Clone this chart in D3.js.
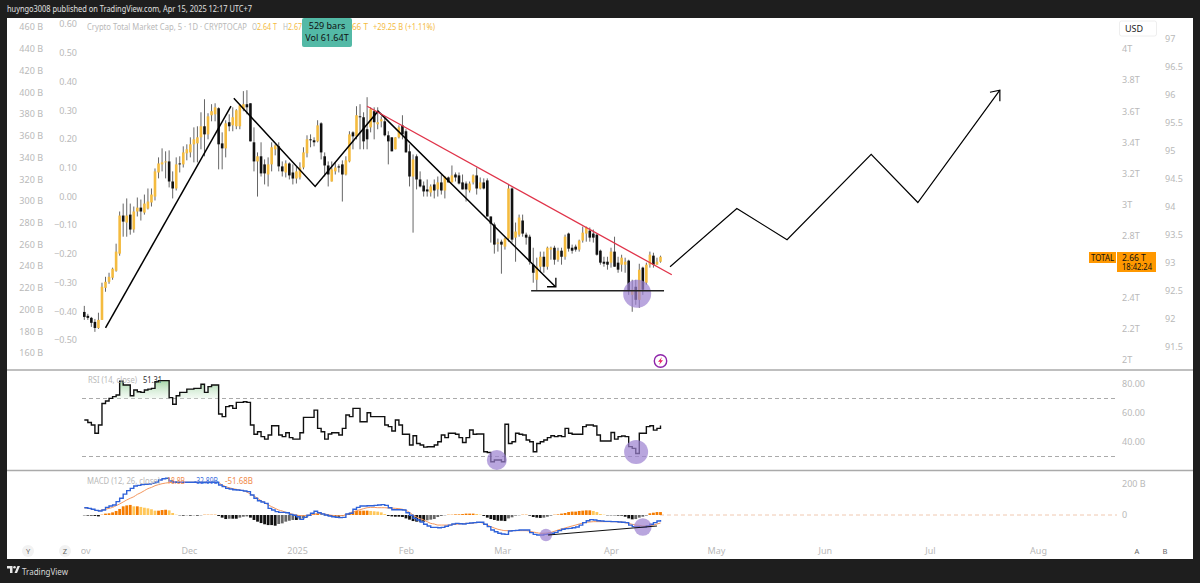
<!DOCTYPE html>
<html><head><meta charset="utf-8">
<style>html,body{margin:0;padding:0;background:#1e1e1e}svg{display:block}text{font-family:"Noto Sans",Roboto,sans-serif}</style>
<script src="https://cdn.jsdelivr.net/npm/d3@7"></script></head><body><div id="c"></div>
<script>
const highs=[2.348,2.297,2.277,2.264,2.304,2.497,2.535,2.561,2.594,2.748,2.955,3.006,3.039,3.006,2.987,3.045,3.032,3.064,3.103,3.103,3.232,3.303,3.361,3.342,3.348,3.213,3.303,3.310,3.374,3.387,3.432,3.496,3.503,3.593,3.677,3.587,3.645,3.651,3.625,3.464,3.542,3.580,3.625,3.613,3.645,3.729,3.735,3.651,3.496,3.335,3.400,3.290,3.303,3.400,3.387,3.400,3.277,3.284,3.271,3.258,3.245,3.271,3.368,3.445,3.451,3.432,3.542,3.529,3.335,3.277,3.277,3.271,3.258,3.284,3.310,3.471,3.471,3.632,3.645,3.593,3.690,3.625,3.625,3.625,3.567,3.567,3.471,3.432,3.432,3.509,3.574,3.484,3.387,3.322,3.322,3.213,3.148,3.161,3.129,3.161,3.180,3.193,3.180,3.180,3.251,3.206,3.206,3.193,3.148,3.148,3.193,3.238,3.174,3.168,3.168,2.923,2.884,2.781,2.774,2.787,3.129,3.110,2.884,2.935,2.935,2.819,2.806,2.722,2.658,2.697,2.697,2.729,2.729,2.735,2.722,2.722,2.806,2.819,2.742,2.742,2.774,2.858,2.858,2.852,2.839,2.813,2.710,2.664,2.664,2.722,2.793,2.664,2.677,2.658,2.645,2.516,2.516,2.619,2.600,2.626,2.697,2.690,2.658,2.671];
const lows=[2.258,2.258,2.213,2.181,2.200,2.258,2.439,2.490,2.516,2.568,2.671,2.793,2.793,2.806,2.819,2.923,2.897,2.935,2.968,2.987,3.026,3.168,3.213,3.168,3.110,3.039,3.090,3.206,3.238,3.284,3.303,3.271,3.271,3.355,3.310,3.419,3.535,3.535,3.226,3.226,3.303,3.471,3.471,3.484,3.484,3.600,3.580,3.406,3.213,3.051,3.180,3.129,3.116,3.213,3.316,3.213,3.180,3.174,3.161,3.129,3.135,3.161,3.226,3.303,3.368,3.374,3.400,3.290,3.180,3.116,3.148,3.193,3.206,3.019,3.187,3.271,3.355,3.419,3.355,3.355,3.355,3.464,3.419,3.484,3.496,3.438,3.258,3.342,3.355,3.425,3.419,3.335,3.116,2.819,3.097,3.110,3.051,3.051,3.051,3.039,3.051,3.064,3.039,3.142,3.142,3.148,3.129,3.097,3.019,3.077,3.129,3.064,3.097,3.097,2.923,2.755,2.684,2.697,2.555,2.710,2.761,2.755,2.632,2.793,2.793,2.742,2.613,2.497,2.445,2.568,2.561,2.581,2.645,2.613,2.632,2.613,2.645,2.697,2.684,2.697,2.697,2.755,2.761,2.761,2.755,2.671,2.613,2.600,2.581,2.594,2.600,2.561,2.568,2.561,2.419,2.310,2.355,2.335,2.419,2.484,2.594,2.594,2.613,2.626];
const opens=[2.309,2.284,2.271,2.245,2.206,2.258,2.464,2.503,2.529,2.574,2.684,2.929,2.884,2.935,2.839,2.955,2.980,2.948,2.974,3.013,3.051,3.206,3.258,3.271,3.277,3.148,3.103,3.264,3.258,3.329,3.335,3.387,3.393,3.432,3.503,3.451,3.574,3.580,3.619,3.393,3.361,3.529,3.509,3.503,3.503,3.613,3.645,3.651,3.400,3.277,3.310,3.258,3.193,3.258,3.355,3.374,3.245,3.206,3.264,3.206,3.167,3.174,3.238,3.329,3.419,3.413,3.406,3.522,3.310,3.251,3.148,3.213,3.245,3.258,3.193,3.277,3.464,3.438,3.567,3.561,3.484,3.496,3.600,3.516,3.535,3.535,3.445,3.432,3.355,3.432,3.509,3.471,3.342,3.180,3.310,3.161,3.122,3.097,3.077,3.129,3.097,3.142,3.090,3.174,3.142,3.193,3.187,3.142,3.135,3.090,3.142,3.187,3.103,3.142,3.155,2.923,2.871,2.748,2.761,2.729,2.781,3.103,2.787,2.806,2.897,2.806,2.793,2.613,2.516,2.600,2.664,2.600,2.710,2.722,2.645,2.703,2.664,2.813,2.722,2.729,2.710,2.768,2.813,2.832,2.813,2.806,2.703,2.632,2.632,2.626,2.697,2.626,2.613,2.613,2.639,2.419,2.471,2.387,2.594,2.497,2.613,2.671,2.613,2.632];
const closes=[2.277,2.271,2.239,2.206,2.258,2.471,2.503,2.535,2.587,2.697,2.929,2.890,2.929,2.839,2.955,2.980,2.955,3.006,3.019,3.064,3.213,3.264,3.271,3.277,3.148,3.103,3.258,3.258,3.335,3.355,3.387,3.419,3.432,3.503,3.451,3.567,3.600,3.625,3.387,3.361,3.522,3.503,3.561,3.606,3.638,3.645,3.625,3.406,3.277,3.310,3.200,3.200,3.258,3.368,3.380,3.245,3.213,3.264,3.187,3.167,3.213,3.238,3.335,3.419,3.413,3.400,3.509,3.335,3.251,3.193,3.226,3.238,3.238,3.193,3.284,3.451,3.438,3.574,3.561,3.406,3.419,3.613,3.529,3.529,3.548,3.445,3.406,3.342,3.432,3.496,3.451,3.335,3.180,3.290,3.161,3.116,3.084,3.084,3.116,3.090,3.142,3.090,3.180,3.142,3.187,3.174,3.135,3.097,3.097,3.135,3.187,3.103,3.142,3.103,2.923,2.877,2.742,2.755,2.742,2.781,3.103,2.774,2.826,2.916,2.813,2.787,2.632,2.561,2.600,2.664,2.600,2.722,2.722,2.645,2.703,2.664,2.793,2.716,2.703,2.710,2.768,2.819,2.852,2.787,2.787,2.677,2.626,2.619,2.613,2.697,2.600,2.581,2.658,2.632,2.445,2.452,2.387,2.581,2.452,2.613,2.677,2.613,2.632,2.664];
const rsi=[55.2,53.5,51.7,46,51.7,66.6,68.3,70.1,71.3,72.4,82,79.3,79.3,71.9,75.9,74.7,74.2,75.9,76.5,77,81.6,82.3,82.3,82.3,70.6,66,71.9,74.2,74.2,76.5,76.5,77,77,79.8,74.2,78.2,79.3,79.3,59.3,57.5,64.4,65,63.2,67.3,67.3,67.8,67.3,51.7,45.3,47.1,43.7,42,44.8,51.2,51.2,44.8,43.7,46.4,43,42,42,46.4,57,57,57,62,49.4,47.1,42,45.5,46.4,46.4,44.8,49.4,58.6,57.5,63.2,63.2,54,54,60.2,57.5,57.5,57.5,57.5,51.7,50.6,47.6,55.2,51.7,45.3,45.3,37.9,44.3,39,37.9,36.5,36.7,36.7,37.9,40.2,44.8,43,46,46,45.3,43,39.7,43,48.3,45.3,45.5,45.5,33.3,32.8,26.4,27.6,27.6,26.4,52.2,39,40.2,46,45.3,44.8,41.4,40.2,33.3,39,40.2,41.4,43,44.3,43.7,44.3,43.7,49.4,46,45.3,45.3,45.3,50.6,51.7,51.7,51,44.8,40.7,40.7,40.7,46.6,42,43.7,44.1,43.7,36.8,35.6,32.1,46,46,50.6,51.2,48.2,49.4,51.3];
const macd=[47,43,37,30,26,32,49,58,65,86,108,135,157,172,187,191,196,198,200,204,213,226,234,237,219,213,211,211,211,211,211,211,211,211,211,211,211,211,194,183,172,168,163,161,159,155,151,129,108,92,84,75,43,32,22,17,17,15,4,-2,-11,-28,-15,-2,11,24,15,6,0,-6,-11,-15,-17,-15,6,11,37,49,58,58,60,60,62,65,67,62,47,34,34,34,32,15,-2,-22,-32,-45,-60,-71,-80,-80,-82,-80,-73,-65,-58,-54,-56,-58,-54,-52,-49,-47,-47,-60,-75,-97,-108,-118,-123,-125,-103,-101,-99,-97,-97,-97,-114,-125,-129,-129,-125,-123,-118,-112,-101,-92,-88,-86,-82,-77,-65,-49,-37,-30,-32,-37,-39,-41,-41,-43,-43,-45,-47,-49,-65,-75,-75,-80,-80,-71,-60,-49,-39,-33];
const signal=[47,43,39,32,28,32,37,43,49,60,71,84,97,108,118,133,144,157,170,178,189,196,202,206,209,211,211,211,211,211,211,211,211,211,211,211,211,211,209,194,183,176,170,166,161,157,148,135,123,108,92,80,65,54,43,32,26,17,11,4,0,-4,-4,-2,0,6,9,9,6,2,-2,-4,-4,-4,0,11,19,28,34,41,47,49,49,47,47,47,45,45,43,41,37,30,17,0,-13,-24,-32,-43,-54,-58,-65,-65,-65,-65,-62,-60,-58,-56,-54,-54,-52,-49,-47,-56,-65,-75,-84,-92,-97,-101,-101,-101,-101,-101,-101,-101,-105,-110,-114,-118,-118,-116,-112,-105,-97,-90,-84,-77,-71,-65,-58,-52,-47,-45,-43,-43,-43,-43,-43,-43,-43,-45,-45,-49,-54,-60,-65,-67,-71,-71,-69,-65,-58,-52];
const hist=[-2,-4,-4,-6,-9,2,9,11,17,26,39,56,62,65,56,56,52,47,43,37,28,28,32,34,30,13,2,-2,-4,-2,-4,-2,-4,-2,2,2,2,2,-6,-17,-26,-24,-24,-24,-17,-11,-9,-17,-32,-43,-52,-60,-65,-65,-69,-58,-54,-43,-37,-32,-32,-28,-22,-11,-4,6,9,6,-2,-6,-9,-11,-11,-6,4,11,22,26,28,28,28,26,24,22,17,6,-6,-9,-11,-11,-13,-22,-30,-39,-43,-43,-43,-34,-30,-26,-13,-6,-2,2,2,4,4,6,9,9,9,6,2,-6,-17,-26,-32,-37,-37,-39,-22,-15,-4,-2,2,2,-4,-13,-17,-19,-17,-11,-4,2,4,9,13,19,22,22,26,28,30,30,26,19,6,2,-2,-2,-2,-4,-4,-11,-22,-28,-26,-17,-11,-4,11,15,19,19];

const monthLabels=["Nov","Dec","2025","Feb","Mar","Apr","May","Jun","Jul","Aug"];
const monthIdx=[-0.7,29.6,60.2,91,118.2,149,178.7,209.5,239.2,269.8];
const capTicks=["2T","2.2T","2.4T","2.8T","3T","3.2T","3.4T","3.6T","3.8T","4T"];
const capVals=[2,2.2,2.4,2.8,3,3.2,3.4,3.6,3.8,4];
const dxyVals=[91.5,92,92.5,93,93.5,94,94.5,95,95.5,96,96.5,97];
const leftBVals=[160,180,200,220,240,260,280,300,320,340,360,380,400,420,440,460];
const leftRVals=[-0.5,-0.4,-0.3,-0.2,-0.1,0,0.1,0.2,0.3,0.4,0.5,0.6];
const rsiTicks=[40,60,80];
const macdTicks=[0,200];

const impulseLine=[[6,2.206],[41.5,3.632]];
const zigLine=[[42.3,3.683],[65.3,3.116],[83.1,3.600],[133.3,2.471]];
const zigArrow=[[130.9,2.471],[133.4,2.471],[133.4,2.529]];
const redLine=[[80,3.632],[166.2,2.548]];
const supportLine=[[126.4,2.445],[164,2.445]];
const projection=[[165.7,2.600],[184.6,2.974],[198.8,2.774],[222.6,3.322],[235.8,3.013],[259,3.735]];
const projArrow=[[256.2,3.722],[259,3.735],[259,3.664]];
const macdDiv=[[131.2,-129],[162,-71]];

const W=1200,H=583;
const svg=d3.select("#c").append("svg").attr("width",W).attr("height",H);
svg.append("rect").attr("width",W).attr("height",H).attr("fill","#1e1e1e");
svg.append("rect").attr("x",7).attr("y",18).attr("width",1186).attr("height",541).attr("fill","#fff");

const x=d3.scaleLinear().domain([0,163]).range([84.3,660.5]);
const yP=d3.scaleLinear().domain([2,4]).range([360,49]);
const yR=d3.scaleLinear().domain([40,80]).range([442,384]);
const yM=d3.scaleLinear().domain([0,200]).range([515,484]);
const yB=d3.scaleLinear().domain([160,460]).range([353,27]);
const yL=d3.scaleLinear().domain([-0.5,0.6]).range([340,24]);
const yD=d3.scaleLinear().domain([91.5,97]).range([347,39]);
const grey="#b9b9b9",orange="#f4bb3f",dark="#111";

function axis(gen,tx,anchor){
  const g=svg.append("g").attr("transform",`translate(${tx},0)`).call(gen);
  g.select(".domain").remove();g.selectAll("line").remove();
  g.selectAll("text").attr("fill",grey).attr("font-size",9).attr("text-anchor",anchor).attr("x",0);
  return g;
}
axis(d3.axisLeft(yB).tickValues(leftBVals).tickFormat(d=>d+" B"),43,"end");
axis(d3.axisLeft(yL).tickValues(leftRVals).tickFormat(d3.format(".2f")),77,"end");
axis(d3.axisRight(yP).tickValues(capVals).tickFormat((d,i)=>capTicks[i]),1122,"start");
axis(d3.axisRight(yD).tickValues(dxyVals).tickFormat(d=>d),1165,"start");
axis(d3.axisRight(yR).tickValues(rsiTicks).tickFormat(d3.format(".2f")),1122,"start");
axis(d3.axisRight(yM).tickValues(macdTicks).tickFormat(d=>d?d+" B":"0"),1122,"start");

svg.append("clipPath").attr("id","tc").append("rect").attr("x",81).attr("y",-6).attr("width",1030).attr("height",20);
const xa=svg.append("g").attr("transform","translate(0,546)").attr("clip-path","url(#tc)")
  .call(d3.axisBottom(x).tickValues(monthIdx).tickFormat((d,i)=>monthLabels[i]).tickSize(0).tickPadding(0));
xa.select(".domain").remove();
xa.selectAll("text").attr("fill",grey).attr("font-size",9).attr("dy",0).attr("y",8);

// separators
svg.selectAll("line.sep").data([370,470.5]).join("line").attr("x1",7).attr("x2",1193).attr("y1",d=>d).attr("y2",d=>d).attr("stroke","#aaa").attr("stroke-width",1.6);

const line=d3.line().x(d=>x(d[0]));
const draw=(pts,yS,col,w)=>svg.append("path").attr("d",line.y(d=>yS(d[1]))(pts)).attr("fill","none").attr("stroke",col).attr("stroke-width",w);

// candles
const cs=highs.map((h,i)=>({i,h,l:lows[i],o:opens[i],c:closes[i]}));
svg.append("g").selectAll("line").data(cs).join("line")
  .attr("x1",d=>x(d.i)).attr("x2",d=>x(d.i)).attr("y1",d=>yP(d.h)).attr("y2",d=>yP(d.l))
  .attr("stroke","#666").attr("stroke-width",1);
svg.append("g").selectAll("rect").data(cs).join("rect")
  .attr("x",d=>x(d.i)-1.3).attr("width",2.6)
  .attr("y",d=>yP(Math.max(d.o,d.c))).attr("height",d=>Math.max(0.8,Math.abs(yP(d.o)-yP(d.c))))
  .attr("fill",d=>d.c>=d.o?orange:dark);

const purple="#9b80d0";
const circ=(i,v,yS,r)=>svg.append("circle").attr("cx",x(i)).attr("cy",yS(v)).attr("r",r).attr("fill",purple).attr("fill-opacity",.7);
circ(156.4,2.426,yP,14);

draw(impulseLine,yP,"#000",1.5);
draw(zigLine,yP,"#000",1.5);
draw(zigArrow,yP,"#000",1.3);
draw(redLine,yP,"#e0344a",1.3);
draw(supportLine,yP,"#222",1.6);
draw(projection,yP,"#000",1.2);
draw(projArrow,yP,"#000",1.2);

// flash icon
const fg=svg.append("g").attr("transform","translate(660.5,361)");
fg.append("circle").attr("r",6.2).attr("fill","#fff").attr("stroke","#8e24aa").attr("stroke-width",1.4);
fg.append("path").attr("d","M1.5,-4 L-2.5,0.8 L-0.2,0.8 L-1.5,4 L2.5,-0.8 L0.2,-0.8 Z").attr("fill","#e91e63");

// RSI pane
const dash=(y1)=>svg.append("line").attr("x1",82).attr("x2",1117).attr("y1",y1).attr("y2",y1).attr("stroke","#aaa").attr("stroke-dasharray","4 3").attr("stroke-width",1);
dash(yR(70));dash(yR(30));
const defs=svg.append("defs");
const gr=defs.append("linearGradient").attr("id","ob").attr("x1",0).attr("x2",0).attr("y1",0).attr("y2",1);
gr.append("stop").attr("offset",0).attr("stop-color","#a5d6a7");
gr.append("stop").attr("offset",1).attr("stop-color","#e8f5e9").attr("stop-opacity",.5);
svg.append("path").datum(rsi).attr("fill","url(#ob)")
  .attr("d",d3.area().curve(d3.curveStepAfter).x((d,i)=>x(i)).y0(yR(70)).y1(d=>yR(Math.max(d,70))));
svg.append("path").datum(rsi).attr("fill","none").attr("stroke","#111").attr("stroke-width",1.4)
  .attr("d",d3.line().curve(d3.curveStepAfter).x((d,i)=>x(i)).y(d=>yR(d)));
circ(116.7,27.6,yR,10);
circ(156.1,33.1,yR,12);

// MACD pane
svg.append("line").attr("x1",660).attr("x2",1117).attr("y1",yM(0)).attr("y2",yM(0)).attr("stroke","#f0c8b0").attr("stroke-dasharray","4 3");
svg.append("g").selectAll("rect").data(hist).join("rect")
  .attr("x",(d,i)=>x(i)-1.4).attr("width",2.8)
  .attr("y",d=>d>=0?yM(d):yM(0)).attr("height",d=>Math.abs(yM(d)-yM(0)))
  .attr("fill",(d,i)=>{const p=i?hist[i-1]:d;return d>=0?(d>=p?"#f57c00":"#ffc75a"):(d<=p?"#111":"#666");});
svg.append("path").datum(signal).attr("fill","none").attr("stroke","#f4975e").attr("stroke-width",1)
  .attr("d",d3.line().curve(d3.curveMonotoneX).x((d,i)=>x(i)).y(d=>yM(d)));
svg.append("path").datum(macd).attr("fill","none").attr("stroke","#2f62d9").attr("stroke-width",1.4)
  .attr("d",d3.line().curve(d3.curveStepAfter).x((d,i)=>x(i)).y(d=>yM(d)));
circ(130.6,-129,yM,6.2);
circ(158,-77,yM,8.8);
draw(macdDiv,yM,"#111",1.2);

// text helpers: len squeezes a run to the width it has in the reference
const T=(s,tx,ty,fill,size=9,anchor="start",len=0)=>{
  const t=svg.append("text").attr("x",tx).attr("y",ty).attr("fill",fill).attr("font-size",size).attr("text-anchor",anchor).text(s);
  if(len)t.attr("textLength",len).attr("lengthAdjust","spacingAndGlyphs");
  return t;
};
T("huyngo3008 published on TradingView.com, Apr 15, 2025 12:17 UTC+7",7,12,"#e0e0e0",9.4,"start",245);
T("Crypto Total Market Cap, 5 · 1D · CRYPTOCAP",87,30,grey,9,"start",160);
T("O",252,30,grey,9,"start",5);T("2.64 T",257,30,orange,9,"start",20);
T("H",283,30,grey,9,"start",5);T("2.67 T",288,30,orange,9,"start",20);
T("2.66 T",345,30,orange,9,"start",23);T("+29.25 B (+1.11%)",373,30,orange,9,"start",62);
svg.append("rect").attr("x",302).attr("y",18).attr("width",50).attr("height",29).attr("rx",2).attr("fill","#53b9a6");
T("529 bars",327,29,"#111",9,"middle");
T("Vol 61.64T",327,41,"#111",9,"middle");

T("RSI (14, close)",88,383,grey,8.6,"start",49);
T("51.31",143,383,"#333",8.6,"start",19);
T("MACD (12, 26, close)",87,484,grey,8.6,"start",73);
T("18.8B",167,484,"#f08a4b",8.6,"start",18);
T("-32.89B",194,484,"#3b6fe0",8.6,"start",24);
T("-51.68B",225,484,"#f08a4b",8.6,"start",28);

// USD box and price badges
svg.append("rect").attr("x",1119.5).attr("y",21).attr("width",37).attr("height",15).attr("rx",2).attr("fill","#fff").attr("stroke","#eee");
T("USD",1125,32,"#222",9);
svg.append("rect").attr("x",1089).attr("y",252).attr("width",27).attr("height",11).attr("fill","#ff9800");
T("TOTAL",1102.5,261,"#111",8.5,"middle",23);
svg.append("rect").attr("x",1117).attr("y",252).attr("width",39).attr("height",20).attr("fill","#ff9800");
T("2.66 T",1122,261,"#111",8.5);
T("18:42:24",1122,270,"#111",8.5,"start",30);

// bottom buttons
[["Y",28],["Z",65],["A",1137],["B",1165]].forEach(([s,cx],i)=>{
  if(i<2)svg.append("circle").attr("cx",cx).attr("cy",551).attr("r",6).attr("fill","#f2f2f2");
  T(s,cx,554,"#666",7.5,"middle");
});
// footer logo
const lg=svg.append("g").attr("transform","translate(7,566)").attr("fill","#e8e8e8");
lg.append("path").attr("d","M0,0 H5.5 V7 H3 V2.5 H0 Z");
lg.append("circle").attr("cx",7.5).attr("cy",1.3).attr("r",1.3);
lg.append("path").attr("d","M10.5,0 H13 L10,7 H7.5 Z");
T("TradingView",22,575,"#d8d8d8",9.5,"start",46);
</script></body></html>
